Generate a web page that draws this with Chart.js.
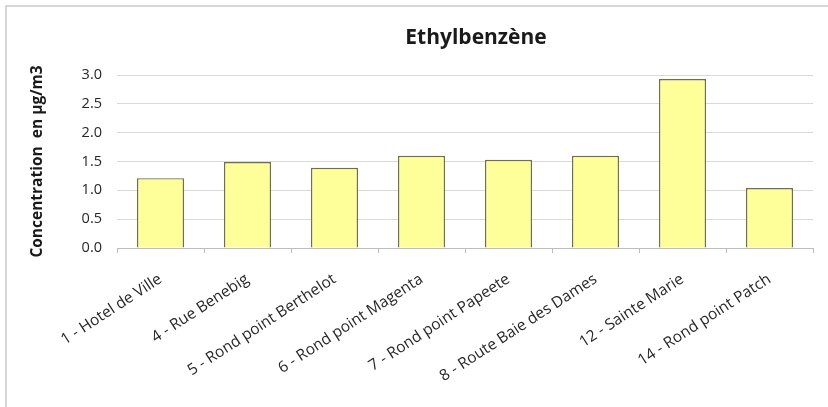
<!DOCTYPE html>
<html>
<head>
<meta charset="utf-8">
<title>Ethylbenzène</title>
<script src="https://cdn.jsdelivr.net/npm/chart.js@4/dist/chart.umd.min.js"></script>
<style>
  html, body { margin: 0; padding: 0; background: #ffffff; }
  #wrap { width: 828px; height: 407px; position: relative; }
  canvas { display: block; }
</style>
</head>
<body>
<div id="wrap"><canvas id="chart" width="828" height="407"></canvas></div>
<script>
// Sampling sites
const sites = [
  "1 - Hotel de Ville",
  "4 - Rue Benebig",
  "5 - Rond point Berthelot",
  "6 - Rond point Magenta",
  "7 - Rond point Papeete",
  "8 - Route Baie des Dames",
  "12 - Sainte Marie",
  "14 - Rond point Patch"
];

// Ethylbenzene concentration per site (µg/m3)
const concentrations = [1.21, 1.49, 1.39, 1.60, 1.53, 1.60, 2.93, 1.04];

// Y-axis range and step
const yMin = 0;
const yMax = 3.0;
const yStep = 0.5;

const chartTitle = "Ethylbenzène";
const yTitle = "Concentration  en µg/m3";

const FONT = "'Open Sans', 'Liberation Sans', sans-serif";

// Thin frame along the top and left edges of the chart sheet
const framePlugin = {
  id: 'frame',
  beforeDraw(chart) {
    const ctx = chart.ctx;
    ctx.save();
    ctx.fillStyle = '#ffffff';
    ctx.fillRect(0, 0, chart.width, chart.height);
    ctx.strokeStyle = '#c9c9c9';
    ctx.lineWidth = 1.5;
    ctx.beginPath();
    ctx.moveTo(6, chart.height);
    ctx.lineTo(6, 6);
    ctx.lineTo(chart.width, 6);
    ctx.stroke();
    ctx.restore();
  }
};

// Chart heading, centred over the plot area (slightly right of the sheet centre)
const headingPlugin = {
  id: 'heading',
  afterDraw(chart) {
    const ctx = chart.ctx;
    const area = chart.chartArea;
    ctx.save();
    ctx.fillStyle = '#1a1a1a';
    ctx.font = "bold 21px " + FONT;
    ctx.textAlign = 'center';
    ctx.textBaseline = 'middle';
    ctx.fillText(chartTitle, (area.left + area.right) / 2 + 11, area.top - 37);
    ctx.restore();
  }
};

new Chart(document.getElementById('chart'), {
  type: 'bar',
  data: {
    labels: sites,
    datasets: [{
      data: concentrations,
      backgroundColor: '#ffff99',
      borderColor: '#6f6f48',
      borderWidth: 1.4,
      barPercentage: 0.54,
      categoryPercentage: 1.0
    }]
  },
  plugins: [framePlugin, headingPlugin],
  options: {
    responsive: false,
    animation: false,
    devicePixelRatio: 1,
    layout: { padding: { left: 0, right: 15, top: 75, bottom: 0 } },
    plugins: {
      legend: { display: false },
      tooltip: { enabled: false },
      title: { display: false }
    },
    scales: {
      x: {
        grid: {
          display: true,
          drawOnChartArea: false,
          drawTicks: true,
          tickLength: 5,
          offset: true,
          color: '#bdbdbd'
        },
        border: { display: true, color: '#bdbdbd', width: 1 },
        ticks: {
          minRotation: 33,
          maxRotation: 33,
          autoSkip: false,
          padding: 17,
          color: '#262626',
          font: { family: FONT, size: 15.5 }
        },
        afterFit(scale) { scale.height = 159; }
      },
      y: {
        min: yMin,
        max: yMax,
        grid: {
          color: '#d9d9d9',
          drawTicks: false
        },
        border: { display: false },
        ticks: {
          stepSize: yStep,
          padding: 15,
          color: '#262626',
          font: { family: FONT, size: 14.5 },
          callback: (v) => Number(v).toFixed(1)
        },
        title: {
          display: true,
          text: yTitle,
          color: '#1a1a1a',
          font: { family: FONT, size: 15.5, weight: 'bold' },
          padding: { top: 28, bottom: 0 }
        },
        afterFit(scale) { scale.width = 117; }
      }
    }
  }
});
</script>
</body>
</html>
